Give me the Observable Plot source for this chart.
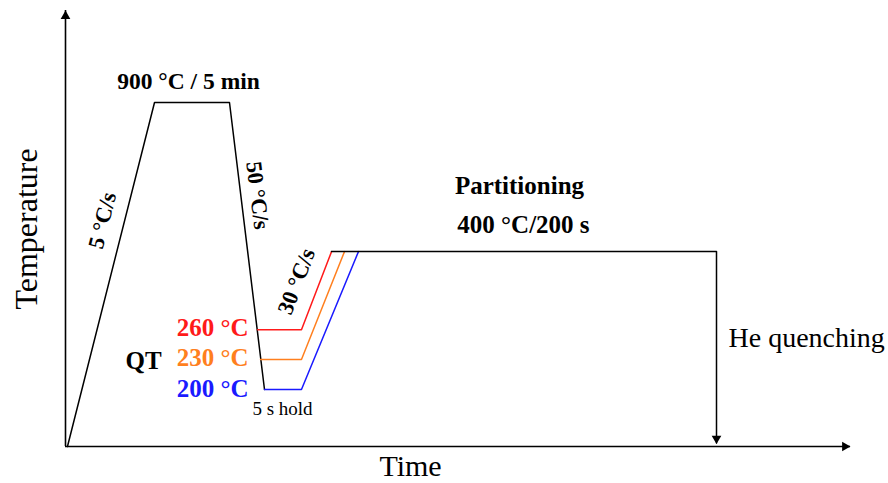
<!DOCTYPE html>
<html>
<head>
<meta charset="utf-8">
<script src="https://cdn.jsdelivr.net/npm/d3@7"></script>
<script src="https://cdn.jsdelivr.net/npm/@observablehq/plot@0.6"></script>
<style>
  html, body { margin: 0; padding: 0; background: #fff; }
  #chart svg { display: block; }
</style>
</head>
<body>
<div id="chart"></div>
<script>
// Schematic time (x) and temperature (y) levels, arbitrary chart units
const mainTime = [0.25, 11.34, 20.89, 25.35];
const mainTemp = [0, 78.9, 78.9, 13.07];

const qtLabels = ["260 °C", "230 °C", "200 °C"];
const qtColors = ["#ff1a1a", "#ff7f1e", "#1a1aff"];
const qtLevel = [26.8, 19.95, 13.07];
const qtStart = [24.46, 24.84, 25.35];
const holdEnd = [30.06, 30.06, 30.06];
const riseEnd = [33.89, 35.54, 37.32];

const partitionTime = [33.89, 82.93, 82.93];
const partitionTemp = [44.7, 44.7, 0.8];

const axisMax = [100, 100];

// annotation texts
const boldTexts = ["900 °C / 5 min", "Partitioning", "400 °C/200 s"];
const boldX = [15.67, 57.83, 58.34];
const boldY = [83.72, 59.86, 50.69];
const boldSize = [23.5, 25, 25];

const rateTexts = ["5 °C/s", "50 °C/s", "30 °C/s"];
const rateX = [4.71, 24.46, 29.43];
const rateY = [51.83, 57.57, 37.84];
const rateAngle = [-76, 83, -69];

const qtLabelY = [27.29, 20.41, 13.30];

const font = "Liberation Serif, Times New Roman, serif";

const mainPath = mainTime.map((t, i) => ({t, T: mainTemp[i]}));
const qtPaths = qtLabels.flatMap((lab, i) => [
  {t: qtStart[i], T: qtLevel[i], s: lab},
  {t: holdEnd[i], T: qtLevel[i], s: lab},
  {t: riseEnd[i], T: partitionTemp[0], s: lab}
]);
const partPath = partitionTime.map((t, i) => ({t, T: partitionTemp[i]}));

const plot = Plot.plot({
  width: 888,
  height: 483,
  marginLeft: 65,
  marginRight: 38,
  marginTop: 10,
  marginBottom: 37,
  x: {domain: [0, axisMax[0]], axis: null},
  y: {domain: [0, axisMax[1]], axis: null},
  color: {domain: qtLabels, range: qtColors},
  style: {background: "#fff", fontFamily: font},
  marks: [
    // axes
    Plot.ruleY([0], {x1: 0, x2: axisMax[0], stroke: "#000", strokeWidth: 1.6}),
    Plot.ruleX([0], {y1: 0, y2: axisMax[1], stroke: "#000", strokeWidth: 1.6}),
    Plot.dot([{t: 0, T: axisMax[1]}], {x: "t", y: "T", symbol: "triangle", r: 3.6, fill: "#000", dy: 5.6}),
    Plot.dot([{t: axisMax[0], T: 0}], {x: "t", y: "T", symbol: "triangle", r: 3.6, fill: "#000", rotate: 90, dx: -5.6}),
    // heating, hold, cooling
    Plot.line(mainPath, {x: "t", y: "T", stroke: "#000", strokeWidth: 1.5}),
    // QT holds and reheating
    Plot.line(qtPaths, {x: "t", y: "T", z: "s", stroke: "s", strokeWidth: 1.5}),
    // partitioning and quench
    Plot.line(partPath, {x: "t", y: "T", stroke: "#000", strokeWidth: 1.5}),
    Plot.dot([{t: partitionTime[2], T: partitionTemp[2]}], {x: "t", y: "T", symbol: "triangle", r: 3.6, fill: "#000", rotate: 180, dy: -4.5}),
    // texts
    Plot.text(boldTexts, {x: (d, i) => boldX[i], y: (d, i) => boldY[i], text: d => d, fontSize: (d, i) => boldSize[i], fontWeight: "bold", fill: "#000"}),
    Plot.text(rateTexts, {x: (d, i) => rateX[i], y: (d, i) => rateY[i], text: d => d, rotate: (d, i) => rateAngle[i], fontSize: 22.5, fontWeight: "bold", fill: "#000"}),
    Plot.text(qtLabels, {x: 23.31, y: (d, i) => qtLabelY[i], text: d => d, fill: d => d, textAnchor: "end", fontSize: 25, fontWeight: "bold"}),
    Plot.text(["QT"], {x: 9.94, y: 19.5, text: d => d, fontSize: 25, fontWeight: "bold", fill: "#000"}),
    Plot.text(["5 s hold"], {x: 27.64, y: 8.6, text: d => d, fontSize: 19, fill: "#000"}),
    Plot.text(["He quenching"], {x: 84.46, y: 24.77, text: d => d, textAnchor: "start", fontSize: 28, fill: "#000"}),
    Plot.text(["Temperature"], {x: -4.97, y: 49.9, text: d => d, rotate: -90, fontSize: 32, fill: "#000"}),
    Plot.text(["Time"], {x: 43.95, y: -4.6, text: d => d, fontSize: 30, fill: "#000"})
  ]
});
document.getElementById("chart").appendChild(plot);
</script>
</body>
</html>
